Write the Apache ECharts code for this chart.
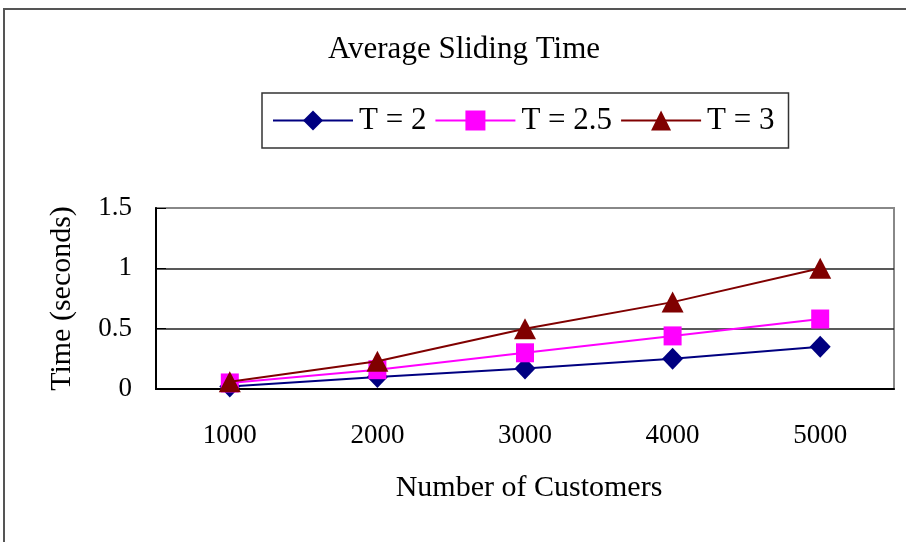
<!DOCTYPE html>
<html>
<head>
<meta charset="utf-8">
<script src="https://cdn.jsdelivr.net/npm/echarts@6/dist/echarts.min.js"></script>
<style>
  html, body { margin: 0; padding: 0; background: #fff; }
  #chart { width: 906px; height: 542px; }
</style>
</head>
<body>
<div id="chart"></div>
<script>
// Number of customers on the x axis
const customers = ['1000', '2000', '3000', '4000', '5000'];
// Average sliding time (seconds) for each threshold T
const timeT2 = [0.02, 0.10, 0.17, 0.25, 0.35];
const timeT25 = [0.05, 0.16, 0.30, 0.44, 0.58];
const timeT3 = [0.06, 0.23, 0.50, 0.72, 1.00];
const seriesNames = ['T = 2', 'T = 2.5', 'T = 3'];

const FONT = '"Liberation Serif", "Times New Roman", serif';
const chart = echarts.init(document.getElementById('chart'), null, { renderer: 'canvas' });

chart.setOption({
  backgroundColor: '#fff',
  animation: false,
  title: {
    text: 'Average Sliding Time',
    left: 459,
    top: 29,
    textAlign: 'center',
    textStyle: { fontFamily: FONT, fontSize: 31, fontWeight: 'normal', color: '#000' }
  },
  legend: {
    left: 262,
    top: 93,
    padding: [12, 14, 12, 10],
    itemGap: 8,
    itemWidth: 80,
    itemHeight: 25,
    borderColor: '#333',
    borderWidth: 1.5,
    data: seriesNames,
    textStyle: { fontFamily: FONT, fontSize: 31, color: '#000', padding: [2, 0, 0, 1] }
  },
  graphic: [{
    type: 'rect',
    shape: { x: 4, y: 9, width: 1000, height: 1000 },
    style: { fill: 'none', stroke: '#555', lineWidth: 2 },
    silent: true,
    z: -10
  }],
  grid: {
    left: 156, right: 12, top: 208, bottom: 153,
    show: true, borderColor: '#888', borderWidth: 2, backgroundColor: 'transparent'
  },
  xAxis: {
    type: 'category',
    data: customers,
    boundaryGap: true,
    name: 'Number of Customers',
    nameLocation: 'middle',
    nameGap: 84,
    nameTextStyle: { fontFamily: FONT, fontSize: 30, color: '#000', padding: [0, 0, 0, 8] },
    axisLine: { lineStyle: { color: '#000', width: 2 } },
    axisTick: { inside: true, length: 10, lineStyle: { color: '#000', width: 1 } },
    axisLabel: { margin: 33, fontFamily: FONT, fontSize: 27, color: '#000' },
    splitLine: { show: false }
  },
  yAxis: {
    type: 'value',
    min: 0, max: 1.5, interval: 0.5,
    name: 'Time (seconds)',
    nameLocation: 'middle',
    nameGap: 79,
    nameTextStyle: { fontFamily: FONT, fontSize: 30, color: '#000' },
    axisLine: { show: true, lineStyle: { color: '#000', width: 2 } },
    axisTick: { show: true, inside: true, length: 10, lineStyle: { color: '#000', width: 1 } },
    axisLabel: { margin: 24, fontFamily: FONT, fontSize: 27, color: '#000' },
    splitLine: { show: true, showMinLine: false, showMaxLine: false, lineStyle: { color: '#222', width: 1.5 } }
  },
  series: [
    {
      name: seriesNames[0], type: 'line', data: timeT2,
      symbol: 'diamond', symbolSize: [21, 22],
      lineStyle: { color: '#000080', width: 2 },
      itemStyle: { color: '#000080' },
      z: 3
    },
    {
      name: seriesNames[1], type: 'line', data: timeT25,
      symbol: 'rect', symbolSize: [18, 19],
      lineStyle: { color: '#ff00ff', width: 2 },
      itemStyle: { color: '#ff00ff' },
      z: 4
    },
    {
      name: seriesNames[2], type: 'line', data: timeT3,
      symbol: 'triangle', symbolSize: [22, 21],
      lineStyle: { color: '#800000', width: 2 },
      itemStyle: { color: '#800000' },
      z: 5
    }
  ]
});
</script>
</body>
</html>
